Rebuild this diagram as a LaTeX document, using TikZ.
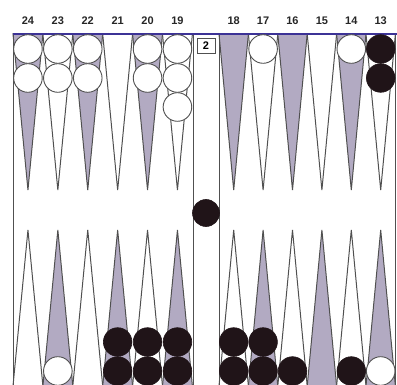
\documentclass[tikz,border=0pt]{standalone}
\usepackage{fontspec}
\setmainfont{Liberation Sans}
\definecolor{pointgray}{RGB}{178,170,194}
\definecolor{rimblue}{RGB}{60,50,150}
\definecolor{checkerblack}{RGB}{32,20,24}
\definecolor{edgegray}{RGB}{80,80,80}

\begin{document}
\begin{tikzpicture}[x=1pt,y=-1pt,
    tri/.style={draw=edgegray,line width=1pt},
    whitechk/.style={draw=edgegray,fill=white,line width=0.9pt},
    blackchk/.style={draw=checkerblack,fill=checkerblack,line width=0.6pt},
    num/.style={font=\bfseries\fontsize{11}{11}\selectfont,text=black!85,anchor=base}]
        \useasboundingbox (0,0) rectangle (397,385);
        \begin{scope}
          \clip (0,0) rectangle (397,385);

          % left half: 24..19 on top, 1..6 below
          \foreach[evaluate={13+29.9*\i} as \x, evaluate={int(24-\i)} as \n] \i in {0,...,5} {
            \pgfmathsetmacro\topfill{ifthenelse(mod(\i,2)==0,"pointgray","white")}
            \pgfmathsetmacro\botfill{ifthenelse(mod(\i,2)==1,"pointgray","white")}
            \draw[tri,fill=\topfill] (\x,34) -- ({\x+14.95},190) -- ({\x+29.9},34) -- cycle;
            \draw[tri,fill=\botfill] (\x,386) -- ({\x+14.95},230) -- ({\x+29.9},386) -- cycle;
            \node[num] (top\n) at ({\x+14.95},24.5) {\n};
          }
          % right half: 18..13 on top, 7..12 below
          \foreach[evaluate={219+29.4*\i} as \x, evaluate={int(18-\i)} as \n] \i in {0,...,5} {
            \pgfmathsetmacro\topfill{ifthenelse(mod(\i,2)==0,"pointgray","white")}
            \pgfmathsetmacro\botfill{ifthenelse(mod(\i,2)==1,"pointgray","white")}
            \draw[tri,fill=\topfill] (\x,34) -- ({\x+14.7},190) -- ({\x+29.4},34) -- cycle;
            \draw[tri,fill=\botfill] (\x,386) -- ({\x+14.7},230) -- ({\x+29.4},386) -- cycle;
            \node[num] (top\n) at ({\x+14.7},24.5) {\n};
          }

          % frame and bar
          \draw[edgegray,line width=1pt] (13,34) -- (13,386);
          \draw[edgegray,line width=1pt] (193,34) -- (193,386);
          \draw[edgegray,line width=1pt] (219,34) -- (219,386);
          \draw[edgegray,line width=1pt] (395,34) -- (395,386);
          \draw[rimblue,line width=1.4pt] (13,34) -- (397,34);

          % checkers, top
          \foreach \c/\k in {0/2,1/2,2/2,4/2,5/3}
            \foreach \j in {1,...,\k}
              \draw[whitechk] ({27.95+29.9*\c},{49+29*(\j-1)}) circle (14.3);
          \foreach \c/\k in {1/1,4/1}
            \foreach \j in {1,...,\k}
              \draw[whitechk] ({233.7+29.4*\c},{49+29*(\j-1)}) circle (14.3);
          \foreach \j in {1,2}
            \draw[blackchk] ({233.7+29.4*5},{49+29*(\j-1)}) circle (14.3);

          % checkers, bottom
          \draw[whitechk] ({27.95+29.9*1},371) circle (14.3);
          \foreach \c in {3,4,5}
            \foreach \j in {1,2}
              \draw[blackchk] ({27.95+29.9*\c},{371-29*(\j-1)}) circle (14.3);
          \foreach \c/\k in {0/2,1/2,2/1,4/1}
            \foreach \j in {1,...,\k}
              \draw[blackchk] ({233.7+29.4*\c},{371-29*(\j-1)}) circle (14.3);
          \draw[whitechk] ({233.7+29.4*5},371) circle (14.3);

          % on the bar
          \draw[blackchk] (206,213) circle (13.5);
        \end{scope}

        \node[draw=edgegray,line width=0.9pt,fill=white,minimum width=18pt,minimum height=15pt,inner sep=0pt,
              font=\bfseries\fontsize{11}{11}\selectfont] (cube) at (206,45.5) {2};
      \end{tikzpicture}
\end{document}
